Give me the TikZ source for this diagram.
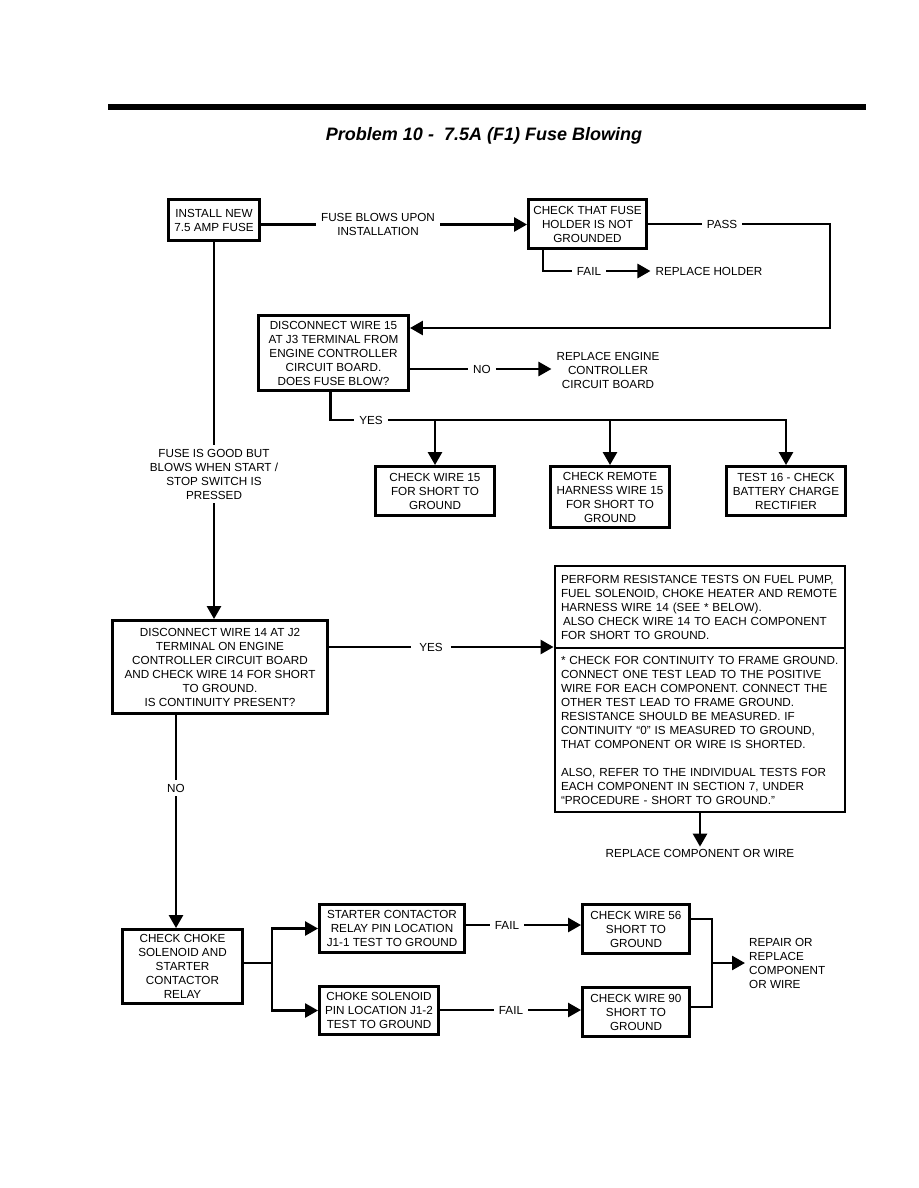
\documentclass[tikz,border=0pt]{standalone}
\usepackage{fontspec}
\setmainfont{Liberation Sans}
\usetikzlibrary{
    positioning,
    arrows.meta
}
\tikzset{
    >={Triangle[length=13pt,width=14pt]},
    caja/.style={
        draw,
        line width=2.9pt,
        align=center,
        inner sep=2pt,
        font=\fontsize{11.7}{14}\selectfont
    },
    etiqueta/.style={
        align=center,
        inner xsep=5pt,
        inner ysep=2pt,
        font=\fontsize{11.7}{14}\selectfont
    },
    linea/.style={
        line width=2.6pt
    }
}

\begin{document}
\begin{tikzpicture}[
    x=1pt,
    y=-1pt
]
    \useasboundingbox (0,0) rectangle (918,1188);

    % Encabezado
    \draw[line width=6pt] (108,107.5) -- (866,107.5);
    \node[font=\fontsize{18}{20}\selectfont\bfseries\itshape] (titulo) at (484,136)
        {Problem 10 -\ \ 7.5A (F1) Fuse Blowing};

    % Cajas
    \node[caja, minimum width=91pt,  minimum height=41pt] (inst)      at (214,220)    {INSTALL NEW\\7.5 AMP FUSE};
    \node[caja, minimum width=118pt, minimum height=49pt] (porta)     at (587.5,224)  {CHECK THAT FUSE\\HOLDER IS NOT\\GROUNDED};
    \node[caja, minimum width=150pt, minimum height=75pt] (w15)       at (333.5,353)  {DISCONNECT WIRE 15\\AT J3 TERMINAL FROM\\ENGINE CONTROLLER\\CIRCUIT BOARD.\\DOES FUSE BLOW?};
    \node[caja, minimum width=119pt, minimum height=49pt] (c15)       at (435,491)    {CHECK WIRE 15\\FOR SHORT TO\\GROUND};
    \node[caja, minimum width=119pt, minimum height=61pt] (remoto)    at (610,497)    {CHECK REMOTE\\HARNESS WIRE 15\\FOR SHORT TO\\GROUND};
    \node[caja, minimum width=119pt, minimum height=49pt] (t16)       at (786,491)    {TEST 16 - CHECK\\BATTERY CHARGE\\RECTIFIER};
    \node[caja, minimum width=215pt, minimum height=93pt] (w14)       at (220,667)    {DISCONNECT WIRE 14 AT J2\\TERMINAL ON ENGINE\\CONTROLLER CIRCUIT BOARD\\AND CHECK WIRE 14 FOR SHORT\\TO GROUND.\\IS CONTINUITY PRESENT?};
    \node[caja, align=left, inner xsep=6pt, text width=278pt, minimum height=82pt] (bigtop) at (700,607)
        {PERFORM RESISTANCE TESTS ON FUEL PUMP,\\
         FUEL SOLENOID, CHOKE HEATER AND REMOTE\\
         HARNESS WIRE 14 (SEE * BELOW).\\
         \hspace*{2pt}ALSO CHECK WIRE 14 TO EACH COMPONENT\\
         FOR SHORT TO GROUND.};
    \node[caja, align=left, inner xsep=6pt, text width=278pt, minimum height=164pt] (bigbot) at (700,730)
        {* CHECK FOR CONTINUITY TO FRAME GROUND.\\
         CONNECT ONE TEST LEAD TO THE POSITIVE\\
         WIRE FOR EACH COMPONENT. CONNECT THE\\
         OTHER TEST LEAD TO FRAME GROUND.\\
         RESISTANCE SHOULD BE MEASURED. IF\\
         CONTINUITY “0” IS MEASURED TO GROUND,\\
         THAT COMPONENT OR WIRE IS SHORTED.\\[14pt]
         ALSO, REFER TO THE INDIVIDUAL TESTS FOR\\
         EACH COMPONENT IN SECTION 7, UNDER\\
         “PROCEDURE - SHORT TO GROUND.”};
    \node[caja, minimum width=120pt, minimum height=74pt] (choke)     at (182.5,966.5) {CHECK CHOKE\\SOLENOID AND\\STARTER\\CONTACTOR\\RELAY};
    \node[caja, minimum width=145pt, minimum height=48pt] (arranque)  at (392,928.5)  {STARTER CONTACTOR\\RELAY PIN LOCATION\\J1-1 TEST TO GROUND};
    \node[caja, minimum width=119pt, minimum height=48pt] (solenoide) at (379,1010.5) {CHOKE SOLENOID\\PIN LOCATION J1-2\\TEST TO GROUND};
    \node[caja, minimum width=107pt, minimum height=49pt] (w56)       at (636,929)    {CHECK WIRE 56\\SHORT TO\\GROUND};
    \node[caja, minimum width=107pt, minimum height=49pt] (w90)       at (636,1012)   {CHECK WIRE 90\\SHORT TO\\GROUND};

    % Etiquetas
    \node[etiqueta] (lblFuse)   at (378,224.5) {FUSE BLOWS UPON\\INSTALLATION};
    \node[etiqueta] (lblPass)   at (722,224)   {PASS};
    \node[etiqueta] (lblFail)   at (589,271)   {FAIL};
    \node[etiqueta] (lblHolder) at (709,271)   {REPLACE HOLDER};
    \node[etiqueta] (lblNo)     at (482,369)   {NO};
    \node[etiqueta] (lblEngine) at (608,370)   {REPLACE ENGINE\\CONTROLLER\\CIRCUIT BOARD};
    \node[etiqueta] (lblYes)    at (371,420)   {YES};
    \node[etiqueta, inner ysep=4pt] (lblGood) at (214,474) {FUSE IS GOOD BUT\\BLOWS WHEN START /\\STOP SWITCH IS\\PRESSED};
    \node[etiqueta, inner xsep=8pt] (lblYes2) at (431,647) {YES};
    \node[etiqueta] (lblComp)   at (700,853)   {REPLACE COMPONENT OR WIRE};
    \node[etiqueta, inner ysep=4pt] (lblNo2) at (176,788) {NO};
    \node[etiqueta] (lblFail1)  at (507,925)   {FAIL};
    \node[etiqueta] (lblFail2)  at (511,1010)  {FAIL};
    \node[etiqueta, align=left, anchor=west, inner xsep=4pt] (lblRepair) at (745,963)
        {REPAIR OR\\REPLACE\\COMPONENT\\OR WIRE};

    \coordinate (esq)   at (830,328);
    \coordinate (rama)  at (272,963);
    \coordinate (union) at (712,963);

    % Conexiones
    \draw[linea] (inst.east |- lblFuse) -- (lblFuse);
    \draw[linea, ->] (lblFuse) -- (porta.west |- lblFuse);

    \draw[linea] (porta.east |- lblPass) -- (lblPass);
    \draw[linea, ->] (lblPass) -| (esq) -- (w15.east |- esq);

    \draw[linea] ([xshift=16pt]porta.south west) |- (lblFail);
    \draw[linea, ->] (lblFail) -- (lblHolder.west |- lblFail);

    \draw[linea] (w15.east |- lblNo) -- (lblNo);
    \draw[linea, ->] (lblNo) -- (lblEngine.west |- lblNo);

    \draw[linea] ([xshift=-3pt]w15.south) |- (lblYes);
    \draw[linea, ->] (lblYes) -| (t16.north);
    \draw[linea, ->] (c15.north |- lblYes) -- (c15.north);
    \draw[linea, ->] (remoto.north |- lblYes) -- (remoto.north);

    \draw[linea] (inst.south) -- (lblGood);
    \draw[linea, ->] (lblGood) -- (inst.south |- w14.north);

    \draw[linea] (w14.east |- lblYes2) -- (lblYes2);
    \draw[linea, ->] (lblYes2) -- (bigtop.west |- lblYes2);

    \draw[linea, ->] (bigbot.south) -- (lblComp);

    \draw[linea] (w14.south -| lblNo2) -- (lblNo2);
    \draw[linea, ->] (lblNo2) -- (lblNo2 |- choke.north);

    \draw[linea] (choke.east |- rama) -- (rama);
    \draw[linea, ->] (rama) |- (arranque.west);
    \draw[linea, ->] (rama) |- (solenoide.west);

    \draw[linea] (arranque.east |- lblFail1) -- (lblFail1);
    \draw[linea, ->] (lblFail1) -- (w56.west |- lblFail1);
    \draw[linea] (solenoide.east |- lblFail2) -- (lblFail2);
    \draw[linea, ->] (lblFail2) -- (w90.west |- lblFail2);

    \draw[linea] ([yshift=10pt]w56.east) -| (union) |- ([yshift=5pt]w90.east);
    \draw[linea, ->] (union) -- (lblRepair);

\end{tikzpicture}
\end{document}
